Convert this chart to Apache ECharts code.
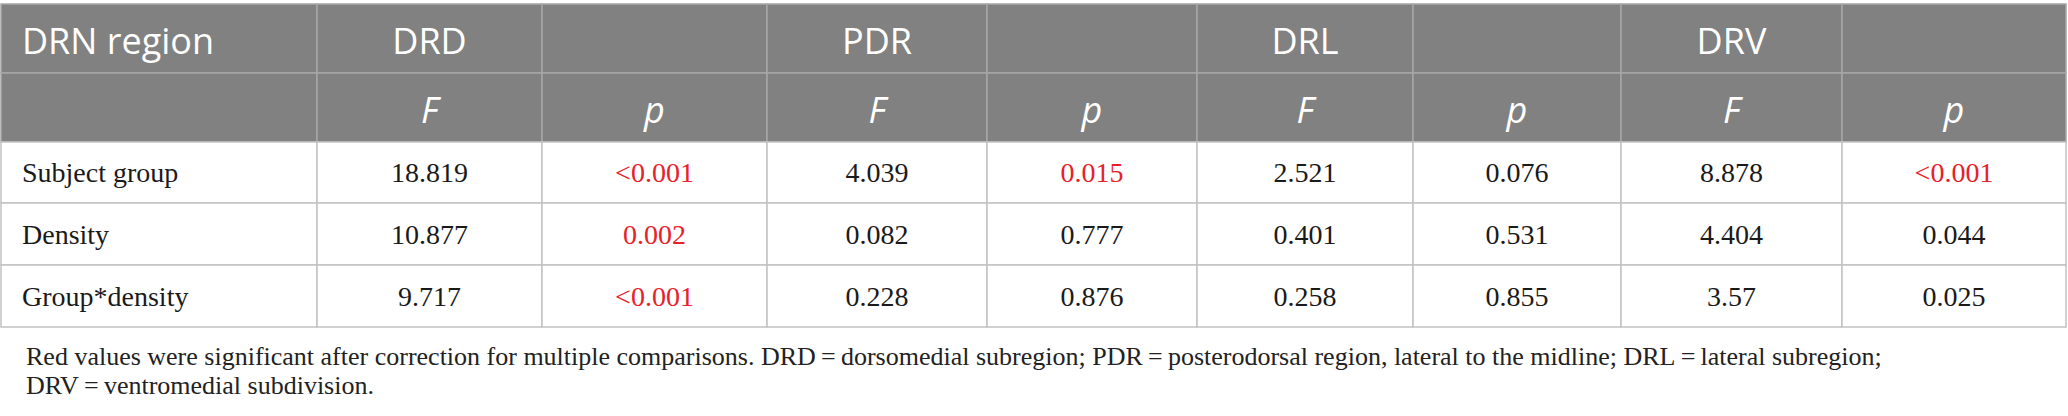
<!DOCTYPE html>
<html>
<head>
<meta charset="utf-8">
<title>DRN region table</title>
<script src="https://cdn.jsdelivr.net/npm/echarts@6/dist/echarts.min.js"></script>
<style>
  html, body { margin: 0; padding: 0; background: #fff; }
  #main { width: 2068px; height: 416px; }
</style>
</head>
<body>
<div id="main"></div>
<script>
// table contents
var headerTop = ['DRN region', 'DRD', '', 'PDR', '', 'DRL', '', 'DRV', ''];
var headerSub = ['', 'F', 'p', 'F', 'p', 'F', 'p', 'F', 'p'];
var rowLabels = ['Subject group', 'Density', 'Group*density'];
var subjectGroup = ['18.819', '<0.001', '4.039', '0.015', '2.521', '0.076', '8.878', '<0.001'];
var density = ['10.877', '0.002', '0.082', '0.777', '0.401', '0.531', '4.404', '0.044'];
var groupDensity = ['9.717', '<0.001', '0.228', '0.876', '0.258', '0.855', '3.57', '0.025'];
// [body row, value column] shown in red
var significant = [[0, 1], [0, 3], [0, 7], [1, 1], [2, 1]];
var footnote = 'Red values were significant after correction for multiple comparisons. DRD\u2009=\u2009dorsomedial subregion; PDR\u2009=\u2009posterodorsal region, lateral to the midline; DRL\u2009=\u2009lateral subregion;\nDRV\u2009=\u2009ventromedial subdivision.';

// layout (pixels in axis units)
var colWidths = [316, 225, 225, 220, 210, 216, 208, 221, 224];
var rowHeights = [69, 69, 61, 62, 62];

function edges(list) {
	var out = [0];
	for (var i = 0; i < list.length; i++) {
		out.push(out[i] + list[i]);
	}
	return out;
}
var colEdges = edges(colWidths);
var rowEdges = edges(rowHeights);

var bodyRows = [subjectGroup, density, groupDensity];

function isRed(r, c) {
	for (var i = 0; i < significant.length; i++) {
		if (significant[i][0] === r && significant[i][1] === c) return true;
	}
	return false;
}

// build the cell list
var cells = [];
for (var c = 0; c < headerTop.length; c++) {
	cells.push({ c: c, r: 0, text: headerTop[c], kind: 'head' });
	cells.push({ c: c, r: 1, text: headerSub[c], kind: 'sub' });
}
for (var r = 0; r < bodyRows.length; r++) {
	cells.push({ c: 0, r: r + 2, text: rowLabels[r], kind: 'label' });
	for (var k = 0; k < bodyRows[r].length; k++) {
		cells.push({ c: k + 1, r: r + 2, text: bodyRows[r][k], kind: isRed(r, k) ? 'red' : 'body' });
	}
}
var cellData = cells.map(function (d, i) { return [d.c, d.r, i]; });

var chart = echarts.init(document.getElementById('main'), null, { renderer: 'svg' });

function renderCell(params, api) {
	var cell = cells[api.value(2)];
	var p0 = api.coord([colEdges[cell.c], rowEdges[cell.r]]);
	var p1 = api.coord([colEdges[cell.c + 1], rowEdges[cell.r + 1]]);
	var header = cell.kind === 'head' || cell.kind === 'sub';
	var left = cell.c === 0;
	var textStyle = {
		text: cell.text,
		x: left ? p0[0] + 21 : (p0[0] + p1[0]) / 2,
		y: (p0[1] + p1[1]) / 2,
		align: left ? 'left' : 'center',
		verticalAlign: 'middle'
	};
	if (header) {
		textStyle.y += 2;
		textStyle.fill = '#ffffff';
		textStyle.fontFamily = '"Open Sans", "Noto Sans", sans-serif';
		textStyle.fontSize = 36;
		textStyle.fontStyle = cell.kind === 'sub' ? 'italic' : 'normal';
	} else {
		textStyle.fill = cell.kind === 'red' ? '#e8202a' : '#1a1a1a';
		textStyle.fontFamily = '"Liberation Serif", "DejaVu Serif", serif';
		textStyle.fontSize = 28;
	}
	return {
		type: 'group',
		children: [{
			type: 'rect',
			shape: { x: p0[0], y: p0[1], width: p1[0] - p0[0], height: p1[1] - p0[1] },
			style: {
				fill: header ? '#808180' : '#ffffff',
				stroke: header ? '#a6a7a6' : '#c2c2c2',
				lineWidth: 1.5
			}
		}, {
			type: 'text',
			style: textStyle
		}]
	};
}

var option = {
	animation: false,
	backgroundColor: '#ffffff',
	title: {
		text: footnote,
		left: 21,
		top: 337,
		textStyle: {
			fontFamily: '"Liberation Serif", "DejaVu Serif", serif',
			fontSize: 26,
			fontWeight: 'normal',
			color: '#222222',
			lineHeight: 29
		}
	},
	grid: { left: 1, top: 4, width: colEdges[colEdges.length - 1], height: rowEdges[rowEdges.length - 1] },
	xAxis: { type: 'value', min: 0, max: colEdges[colEdges.length - 1], show: false },
	yAxis: { type: 'value', min: 0, max: rowEdges[rowEdges.length - 1], inverse: true, show: false },
	series: [{
		type: 'custom',
		renderItem: renderCell,
		data: cellData,
		clip: false
	}]
};

chart.setOption(option);
</script>
</body>
</html>
